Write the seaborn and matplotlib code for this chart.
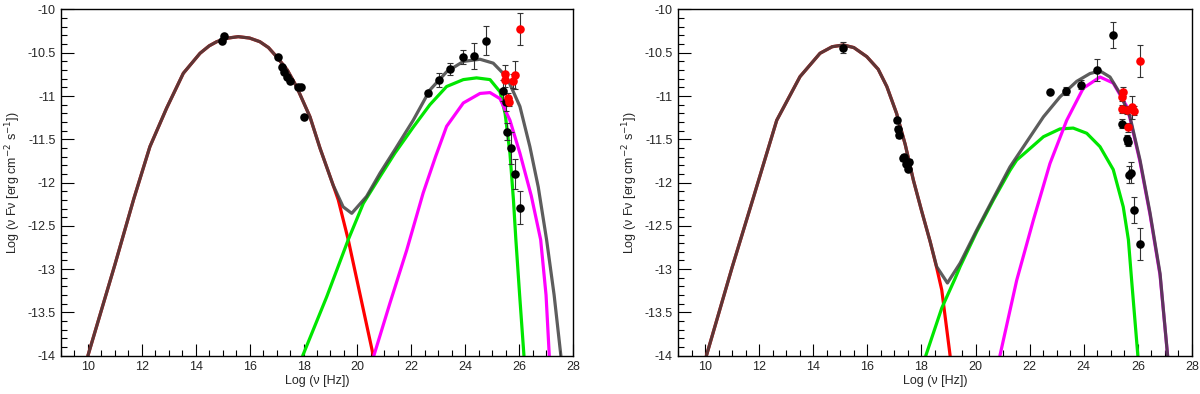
import matplotlib
matplotlib.use('Agg')
import matplotlib.pyplot as plt
from matplotlib.ticker import MultipleLocator, FuncFormatter
import seaborn as sns
import pandas as pd

# ---- left panel: model curves ----
L_sync_x = [10.0, 11.0, 11.7, 12.3, 12.92, 13.54, 14.16, 14.5, 14.78, 15.2, 15.58, 16.0, 16.38, 16.7, 17.0, 17.4, 17.74, 18.24, 18.61, 19.1, 19.29, 19.66, 20.09, 20.59]
L_sync_y = [-14.0, -12.95, -12.19, -11.585, -11.14, -10.737, -10.506, -10.42, -10.372, -10.33, -10.314, -10.33, -10.372, -10.44, -10.545, -10.7, -10.89, -11.24, -11.6, -12.03, -12.2, -12.66, -13.28, -14.0]
L_ssc_x = [17.97, 18.86, 19.66, 20.22, 20.84, 21.39, 22.07, 22.69, 23.31, 23.93, 24.42, 24.92, 25.29, 25.48, 25.66, 25.79, 25.88, 26.02, 26.18]
L_ssc_y = [-14.0, -13.32, -12.66, -12.24, -11.93, -11.66, -11.36, -11.1, -10.89, -10.81, -10.79, -10.81, -10.95, -11.2, -11.66, -12.2, -12.66, -13.3, -14.0]
L_ec_x = [20.61, 21.21, 21.83, 22.44, 22.9, 23.31, 23.93, 24.55, 24.92, 25.29, 25.66, 26.03, 26.45, 26.8, 27.0, 27.12]
L_ec_y = [-14.0, -13.39, -12.78, -12.12, -11.7, -11.35, -11.08, -10.97, -10.96, -11.03, -11.28, -11.66, -12.15, -12.66, -13.3, -14.0]
L_tot_x = L_sync_x[:20] + [19.47, 19.79, 20.34, 20.84, 21.39, 22.07, 22.69, 23.31, 23.93, 24.55, 25.04, 25.54, 26.03, 26.4, 26.71, 27.02, 27.3, 27.55]
L_tot_y = L_sync_y[:20] + [-12.28, -12.355, -12.16, -11.89, -11.62, -11.28, -10.93, -10.72, -10.6, -10.575, -10.62, -10.78, -11.12, -11.585, -12.05, -12.66, -13.3, -14.0]

# ---- left panel: data ----
L_blk_x = [14.98, 15.05, 17.04, 17.19, 17.27, 17.37, 17.5, 17.81, 17.92, 18.02,
           22.61, 23.03, 23.43, 23.9, 24.34, 24.77, 25.41, 25.51, 25.56, 25.7, 25.85, 26.03]
L_blk_y = [-10.36, -10.31, -10.55, -10.66, -10.72, -10.78, -10.83, -10.89, -10.9, -11.24,
           -10.97, -10.81, -10.69, -10.55, -10.54, -10.36, -10.94, -11.07, -11.41, -11.6, -11.9, -12.29]
L_blk_e = [0.02, 0.03, 0.02, 0.02, 0.02, 0.02, 0.02, 0.02, 0.02, 0.02,
           0.03, 0.08, 0.07, 0.08, 0.15, 0.17, 0.12, 0.1, 0.1, 0.19, 0.17, 0.19]
L_red_x = [26.03, 25.48, 25.85, 25.48, 25.76, 25.57, 25.63]
L_red_y = [-10.225, -10.74, -10.76, -10.82, -10.83, -11.02, -11.07]
L_red_e = [0.19, 0.1, 0.16, 0.08, 0.08, 0.05, 0.05]

# ---- right panel: model curves ----
R_sync_x = [10.05, 11.0, 11.78, 12.65, 13.51, 14.25, 14.7, 15.11, 15.5, 15.98, 16.4, 16.72, 17.08, 17.4, 17.7, 18.0, 18.32, 18.56, 18.75, 19.06]
R_sync_y = [-14.0, -12.98, -12.18, -11.28, -10.776, -10.506, -10.43, -10.41, -10.44, -10.545, -10.69, -10.89, -11.2, -11.56, -11.97, -12.32, -12.68, -12.98, -13.24, -14.0]
R_ssc_x = [18.16, 18.75, 19.24, 19.43, 20.04, 20.66, 21.27, 21.52, 21.89, 22.51, 23.12, 23.61, 24.11, 24.6, 25.09, 25.46, 25.65, 25.77, 26.0]
R_ssc_y = [-14.0, -13.45, -13.11, -12.97, -12.57, -12.2, -11.86, -11.74, -11.64, -11.47, -11.38, -11.37, -11.43, -11.585, -11.85, -12.28, -12.66, -13.13, -14.0]
R_ec_x = [20.9, 21.52, 22.14, 22.75, 23.37, 23.98, 24.6, 25.09, 25.59, 25.71, 26.08, 26.45, 26.82, 27.1]
R_ec_y = [-14.0, -13.13, -12.43, -11.78, -11.28, -10.91, -10.78, -10.85, -11.12, -11.26, -11.76, -12.37, -13.07, -14.0]
R_tot_x = R_sync_x[:17] + [18.56, 18.96, 19.43, 20.04, 20.66, 21.27, 21.89, 22.51, 23.12, 23.74, 24.23, 24.6, 24.97, 25.34, 25.71, 26.08, 26.45, 26.82, 27.1]
R_tot_y = R_sync_y[:17] + [-12.97, -13.16, -12.93, -12.55, -12.18, -11.82, -11.53, -11.24, -11.01, -10.83, -10.74, -10.71, -10.78, -10.97, -11.24, -11.74, -12.35, -13.05, -14.0]

# ---- right panel: data ----
R_blk_x = [15.09, 17.08, 17.12, 17.16, 17.32, 17.36, 17.42, 17.5, 17.55,
           22.75, 23.34, 23.89, 24.49, 25.07, 25.43, 25.59, 25.62, 25.69, 25.75, 25.86, 26.08]
R_blk_y = [-10.44, -11.28, -11.38, -11.45, -11.72, -11.7, -11.78, -11.84, -11.76,
           -10.95, -10.94, -10.87, -10.7, -10.3, -11.32, -11.5, -11.53, -11.91, -11.885, -12.32, -12.71]
R_blk_e = [0.06, 0.03, 0.03, 0.03, 0.03, 0.03, 0.03, 0.03, 0.03,
           0.0, 0.05, 0.05, 0.13, 0.15, 0.05, 0.05, 0.05, 0.1, 0.12, 0.15, 0.19]
R_red_x = [26.08, 25.46, 25.4, 25.43, 25.59, 25.77, 25.86, 25.65]
R_red_y = [-10.595, -10.95, -11.01, -11.15, -11.16, -11.13, -11.17, -11.36]
R_red_e = [0.19, 0.05, 0.05, 0.05, 0.05, 0.13, 0.05, 0.05]

sns.set_style('white')
plt.rcParams['font.family'] = ['Liberation Sans', 'DejaVu Sans']
plt.rcParams['axes.unicode_minus'] = False

fig = plt.figure(figsize=(12, 3.94), dpi=100)
ax_l = fig.add_axes([0.0508, 0.0972, 0.4267, 0.8787])
ax_r = fig.add_axes([0.565, 0.0972, 0.4283, 0.8787])


def draw_panel(ax, sync, ssc, ec, tot, blk, red):
    for (xs, ys), col in [(sync, '#ff0000'), (ssc, '#00e600'), (ec, '#ff00ff')]:
        sns.lineplot(data=pd.DataFrame({'x': xs, 'y': ys}), x='x', y='y', ax=ax,
                     sort=False, estimator=None, color=col, linewidth=2.3)
    sns.lineplot(data=pd.DataFrame({'x': tot[0], 'y': tot[1]}), x='x', y='y', ax=ax,
                 sort=False, estimator=None, color='#404040', alpha=0.85, linewidth=2.3)

    for (xs, ys, es), col in [(blk, 'black'), (red, '#ff0000')]:
        ax.errorbar(xs, ys, yerr=es, fmt='none', ecolor='#333333', elinewidth=0.8,
                    capsize=2, capthick=0.8, zorder=4)
        sns.scatterplot(data=pd.DataFrame({'x': xs, 'y': ys}), x='x', y='y', ax=ax,
                        color=col, s=38, edgecolor=col, linewidth=0, zorder=5)

    ax.set_xlim(9, 28)
    ax.set_ylim(-14, -10)
    ax.xaxis.set_major_locator(MultipleLocator(2))
    ax.xaxis.set_minor_locator(MultipleLocator(0.5))
    ax.yaxis.set_major_locator(MultipleLocator(0.5))
    ax.yaxis.set_minor_locator(MultipleLocator(0.1))
    ax.yaxis.set_major_formatter(FuncFormatter(lambda v, p: '%g' % v))
    ax.xaxis.set_major_formatter(FuncFormatter(lambda v, p: '%g' % v))
    ax.tick_params(which='both', direction='in', bottom=True, left=True, top=False, right=False,
                   labelsize=9, width=0.8, pad=4, color='black')
    ax.tick_params(which='major', length=9)
    ax.tick_params(which='minor', length=4.5)
    for s in ax.spines.values():
        s.set_color('black')
        s.set_linewidth(1.0)
    ax.set_xlabel('Log (ν [Hz])', fontsize=9, labelpad=1)
    ax.set_ylabel('Log (ν Fν [erg cm$^{-2}$ s$^{-1}$])', fontsize=9, labelpad=3)


draw_panel(ax_l, (L_sync_x, L_sync_y), (L_ssc_x, L_ssc_y), (L_ec_x, L_ec_y),
           (L_tot_x, L_tot_y), (L_blk_x, L_blk_y, L_blk_e), (L_red_x, L_red_y, L_red_e))
draw_panel(ax_r, (R_sync_x, R_sync_y), (R_ssc_x, R_ssc_y), (R_ec_x, R_ec_y),
           (R_tot_x, R_tot_y), (R_blk_x, R_blk_y, R_blk_e), (R_red_x, R_red_y, R_red_e))

fig.savefig('out.png', dpi=100)
